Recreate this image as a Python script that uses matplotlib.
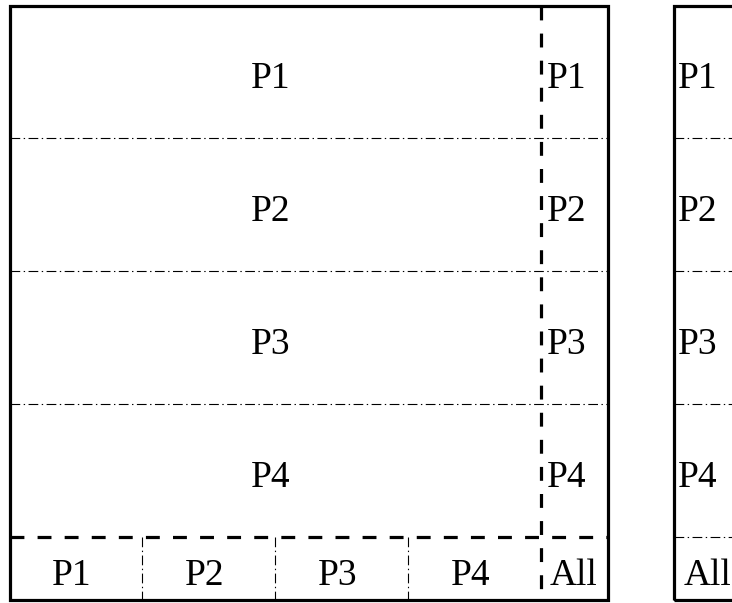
import matplotlib
matplotlib.use('Agg')
import matplotlib.pyplot as plt
from matplotlib.patches import Rectangle

# labels for the four parts and the total
parts = ['P1', 'P2', 'P3', 'P4']
total_label = 'All'

plt.rcParams['font.family'] = ['Liberation Serif', 'DejaVu Serif']
plt.rcParams['lines.scale_dashes'] = False

fig = plt.figure(figsize=(7.32, 6.03), dpi=100)
ax = fig.add_axes([0, 0, 1, 1])
ax.set_xlim(-0.0715, 5.436)
ax.set_ylim(-0.0203, 4.517)
ax.axis('off')

n = len(parts)
foot = 0.475      # height of the bottom strip
side = 0.5        # width of the right strip
top = n + foot
right = n + side

thick = 2.3
dash = (0, (10, 9.5))
dashdot = (0, (7, 2.5, 1, 2.5))
fs = 27
base = 0.123      # baseline offset below cell centre
dx = -0.033       # small left shift of centred labels

# left panel: outer frame
ax.add_patch(Rectangle((0, 0), right, top, fill=False, lw=thick, ec='black', zorder=3))

# row separators (dash-dot) across the full width
for i in range(1, n):
    ax.plot([0, right], [foot + i, foot + i], color='black', lw=0.8, ls=dashdot)

# column separators in the bottom strip
for j in range(1, n):
    ax.plot([j, j], [foot, 0], color='black', lw=0.8, ls=dashdot)

# thick dashed separators of the marginal strips
ax.plot([0, right], [foot, foot], color='black', lw=thick, ls=dash, zorder=2)
ax.plot([n, n], [top, 0], color='black', lw=thick, ls=dash, zorder=2)

# labels
for i, p in enumerate(parts):
    yc = top - i - 0.5 - base
    ax.text(n / 2 + dx, yc, p, ha='center', va='baseline', fontsize=fs)
    ax.text(n + 0.045, yc, p, ha='left', va='baseline', fontsize=fs)
    ax.text(i + 0.5 + dx, foot / 2 - base, p, ha='center', va='baseline', fontsize=fs)
ax.text(n + 0.065, foot / 2 - base, total_label, ha='left', va='baseline', fontsize=fs)

# right panel: single column
x0 = right + side
ax.add_patch(Rectangle((x0, 0), side, top, fill=False, lw=thick, ec='black', zorder=3))
for i in range(0, n):
    ax.plot([x0, x0 + side], [foot + i, foot + i], color='black', lw=0.8, ls=dashdot)
for i, p in enumerate(parts):
    ax.text(x0 + 0.025, top - i - 0.5 - base, p, ha='left', va='baseline', fontsize=fs)
ax.text(x0 + 0.07, foot / 2 - base, total_label, ha='left', va='baseline', fontsize=fs)

fig.savefig('out.png', dpi=100, facecolor='white')
